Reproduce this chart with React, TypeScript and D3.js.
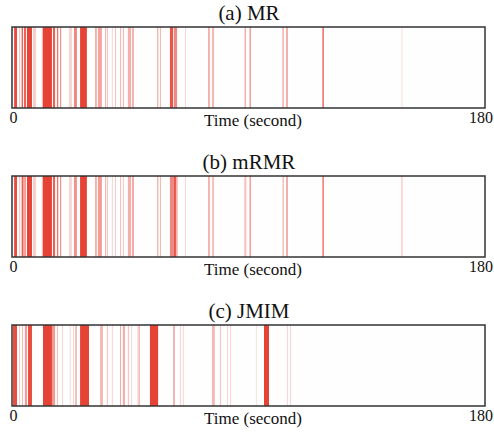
import React from "react";
import * as d3 from "d3";

// Segments: [startSecond, endSecond, intensity]
const titles = ["(a) MR", "(b) mRMR", "(c) JMIM"];
const xTickLabels = ["0", "180"];
const xAxisLabel = "Time (second)";
const timeDomain = [0, 180];

const segmentsMR: [number, number, number][] = [
  [0.8, 1.9, 0.9], [2.7, 3.1, 0.3], [3.4, 3.8, 0.3], [3.8, 4.2, 0.8], [4.6, 5.3, 0.85],
  [5.7, 7.6, 0.95], [8.0, 9.1, 0.25], [11.4, 11.8, 0.35], [11.8, 15.2, 0.95],
  [15.6, 16.4, 0.8], [17.1, 17.6, 0.7], [18.3, 18.7, 0.6], [21.7, 22.8, 0.22],
  [23.6, 24.7, 0.6], [25.9, 28.5, 0.95], [31.6, 32.3, 0.4], [32.7, 34.2, 0.45],
  [35.4, 35.8, 0.35], [36.1, 36.5, 0.3], [38.0, 38.4, 0.2], [39.2, 39.6, 0.3],
  [41.1, 41.5, 0.35], [42.2, 42.6, 0.35], [44.1, 45.3, 0.4], [45.7, 46.4, 0.4],
  [55.2, 55.7, 0.4], [56.3, 56.7, 0.35], [60.1, 61.3, 0.85], [61.6, 62.8, 0.6],
  [65.8, 66.2, 0.2], [74.6, 75.3, 0.4], [76.1, 76.9, 0.35], [88.5, 89.0, 0.45],
  [90.4, 90.9, 0.55], [102.9, 103.4, 0.45], [104.4, 104.9, 0.6], [118.1, 118.7, 0.7],
  [148.2, 148.6, 0.15],
];

const segmentsMRMR: [number, number, number][] = [
  [0.8, 1.9, 0.9], [2.7, 3.1, 0.3], [3.4, 3.8, 0.3], [3.8, 4.4, 0.8], [4.6, 5.3, 0.5],
  [5.7, 7.6, 0.95], [8.0, 9.1, 0.25], [11.4, 11.8, 0.35], [11.8, 15.2, 0.95],
  [15.6, 16.4, 0.8], [17.1, 17.6, 0.7], [18.3, 18.7, 0.6], [21.7, 22.8, 0.2],
  [23.6, 24.7, 0.55], [25.9, 28.5, 0.95], [31.6, 32.3, 0.4], [32.7, 34.2, 0.5],
  [35.4, 35.8, 0.35], [36.1, 36.5, 0.3], [38.0, 38.4, 0.2], [39.2, 39.6, 0.25],
  [41.1, 41.5, 0.3], [42.2, 42.6, 0.25], [44.1, 45.3, 0.4], [45.7, 46.4, 0.45],
  [55.2, 55.7, 0.4], [56.3, 56.7, 0.35], [60.1, 61.3, 0.6], [61.4, 62.4, 0.85],
  [62.5, 63.0, 0.5], [65.8, 66.2, 0.2], [74.6, 75.3, 0.4], [76.1, 76.9, 0.3],
  [88.4, 89.2, 0.3], [90.4, 90.9, 0.55], [102.9, 103.5, 0.3], [104.4, 104.9, 0.6],
  [118.1, 118.7, 0.65], [148.2, 148.6, 0.35],
];

const segmentsJMIM: [number, number, number][] = [
  [0.4, 1.9, 0.9], [2.7, 3.1, 0.25], [3.8, 4.2, 0.35], [4.9, 5.7, 0.5], [6.1, 7.6, 0.9],
  [11.8, 15.2, 0.95], [15.2, 16.4, 0.5], [17.1, 17.5, 0.3], [19.0, 19.4, 0.2],
  [22.0, 22.4, 0.15], [23.2, 23.6, 0.2], [24.0, 24.7, 0.35], [25.9, 29.3, 0.95],
  [33.5, 34.6, 0.35], [36.1, 36.5, 0.3], [38.0, 38.4, 0.2], [41.1, 41.5, 0.4],
  [42.2, 43.0, 0.4], [44.1, 44.5, 0.3], [45.3, 45.7, 0.2], [47.6, 48.0, 0.15],
  [48.1, 48.7, 0.35], [52.5, 55.6, 0.95], [61.3, 62.0, 0.4], [63.9, 64.3, 0.2],
  [65.0, 65.4, 0.2], [76.1, 77.2, 0.35], [79.1, 79.5, 0.3], [81.8, 82.2, 0.2],
  [83.0, 83.4, 0.2], [92.8, 93.2, 0.15], [95.9, 97.8, 0.95], [104.6, 105.0, 0.2],
  [105.8, 106.2, 0.2],
];

const panels = [segmentsMR, segmentsMRMR, segmentsJMIM];

const W = 494;
const H = 433;
const boxLeft = 12;
const boxRight = 485;
const boxTops = [27, 176, 325];
const boxH = 81;
const red = "#e5392c";
const font = "'Liberation Serif', 'Times New Roman', serif";

export default function App() {
  const x = d3.scaleLinear().domain(timeDomain).range([boxLeft, boxRight]);
  const alpha = d3.scaleLinear().domain([0, 1]).range([0, 1]).clamp(true);
  return (
    <svg width={W} height={H} style={{ position: "absolute", left: 0, top: 0, background: "#fff" }}>
      <rect x={0} y={0} width={W} height={H} fill="#fff" />
      {panels.map((segs, i) => {
        const top = boxTops[i];
        const bottom = top + boxH;
        return (
          <g key={i}>
            <text x={(boxLeft + boxRight) / 2 + 0.5} y={top - 7} textAnchor="middle"
              fontFamily={font} fontSize={21} fill="#111">{titles[i]}</text>
            <rect x={boxLeft} y={top} width={boxRight - boxLeft} height={boxH} fill="#fefefe" />
            {segs.map(([s, e, v], j) => (
              <rect key={j} x={x(s)} y={top} width={Math.max(1, x(e) - x(s))} height={boxH}
                fill={red} fillOpacity={alpha(v)} />
            ))}
            <rect x={boxLeft} y={top} width={boxRight - boxLeft} height={boxH}
              fill="none" stroke="#333" strokeWidth={1.5} />
            <text x={x(timeDomain[0]) + 1.5} y={bottom + 15} textAnchor="middle"
              fontFamily={font} fontSize={16} fill="#111">{xTickLabels[0]}</text>
            <text x={W - 1} y={bottom + 15} textAnchor="end"
              fontFamily={font} fontSize={16} fill="#111">{xTickLabels[1]}</text>
            <text x={253} y={bottom + 18} textAnchor="middle"
              fontFamily={font} fontSize={17} fill="#111">{xAxisLabel}</text>
          </g>
        );
      })}
    </svg>
  );
}
